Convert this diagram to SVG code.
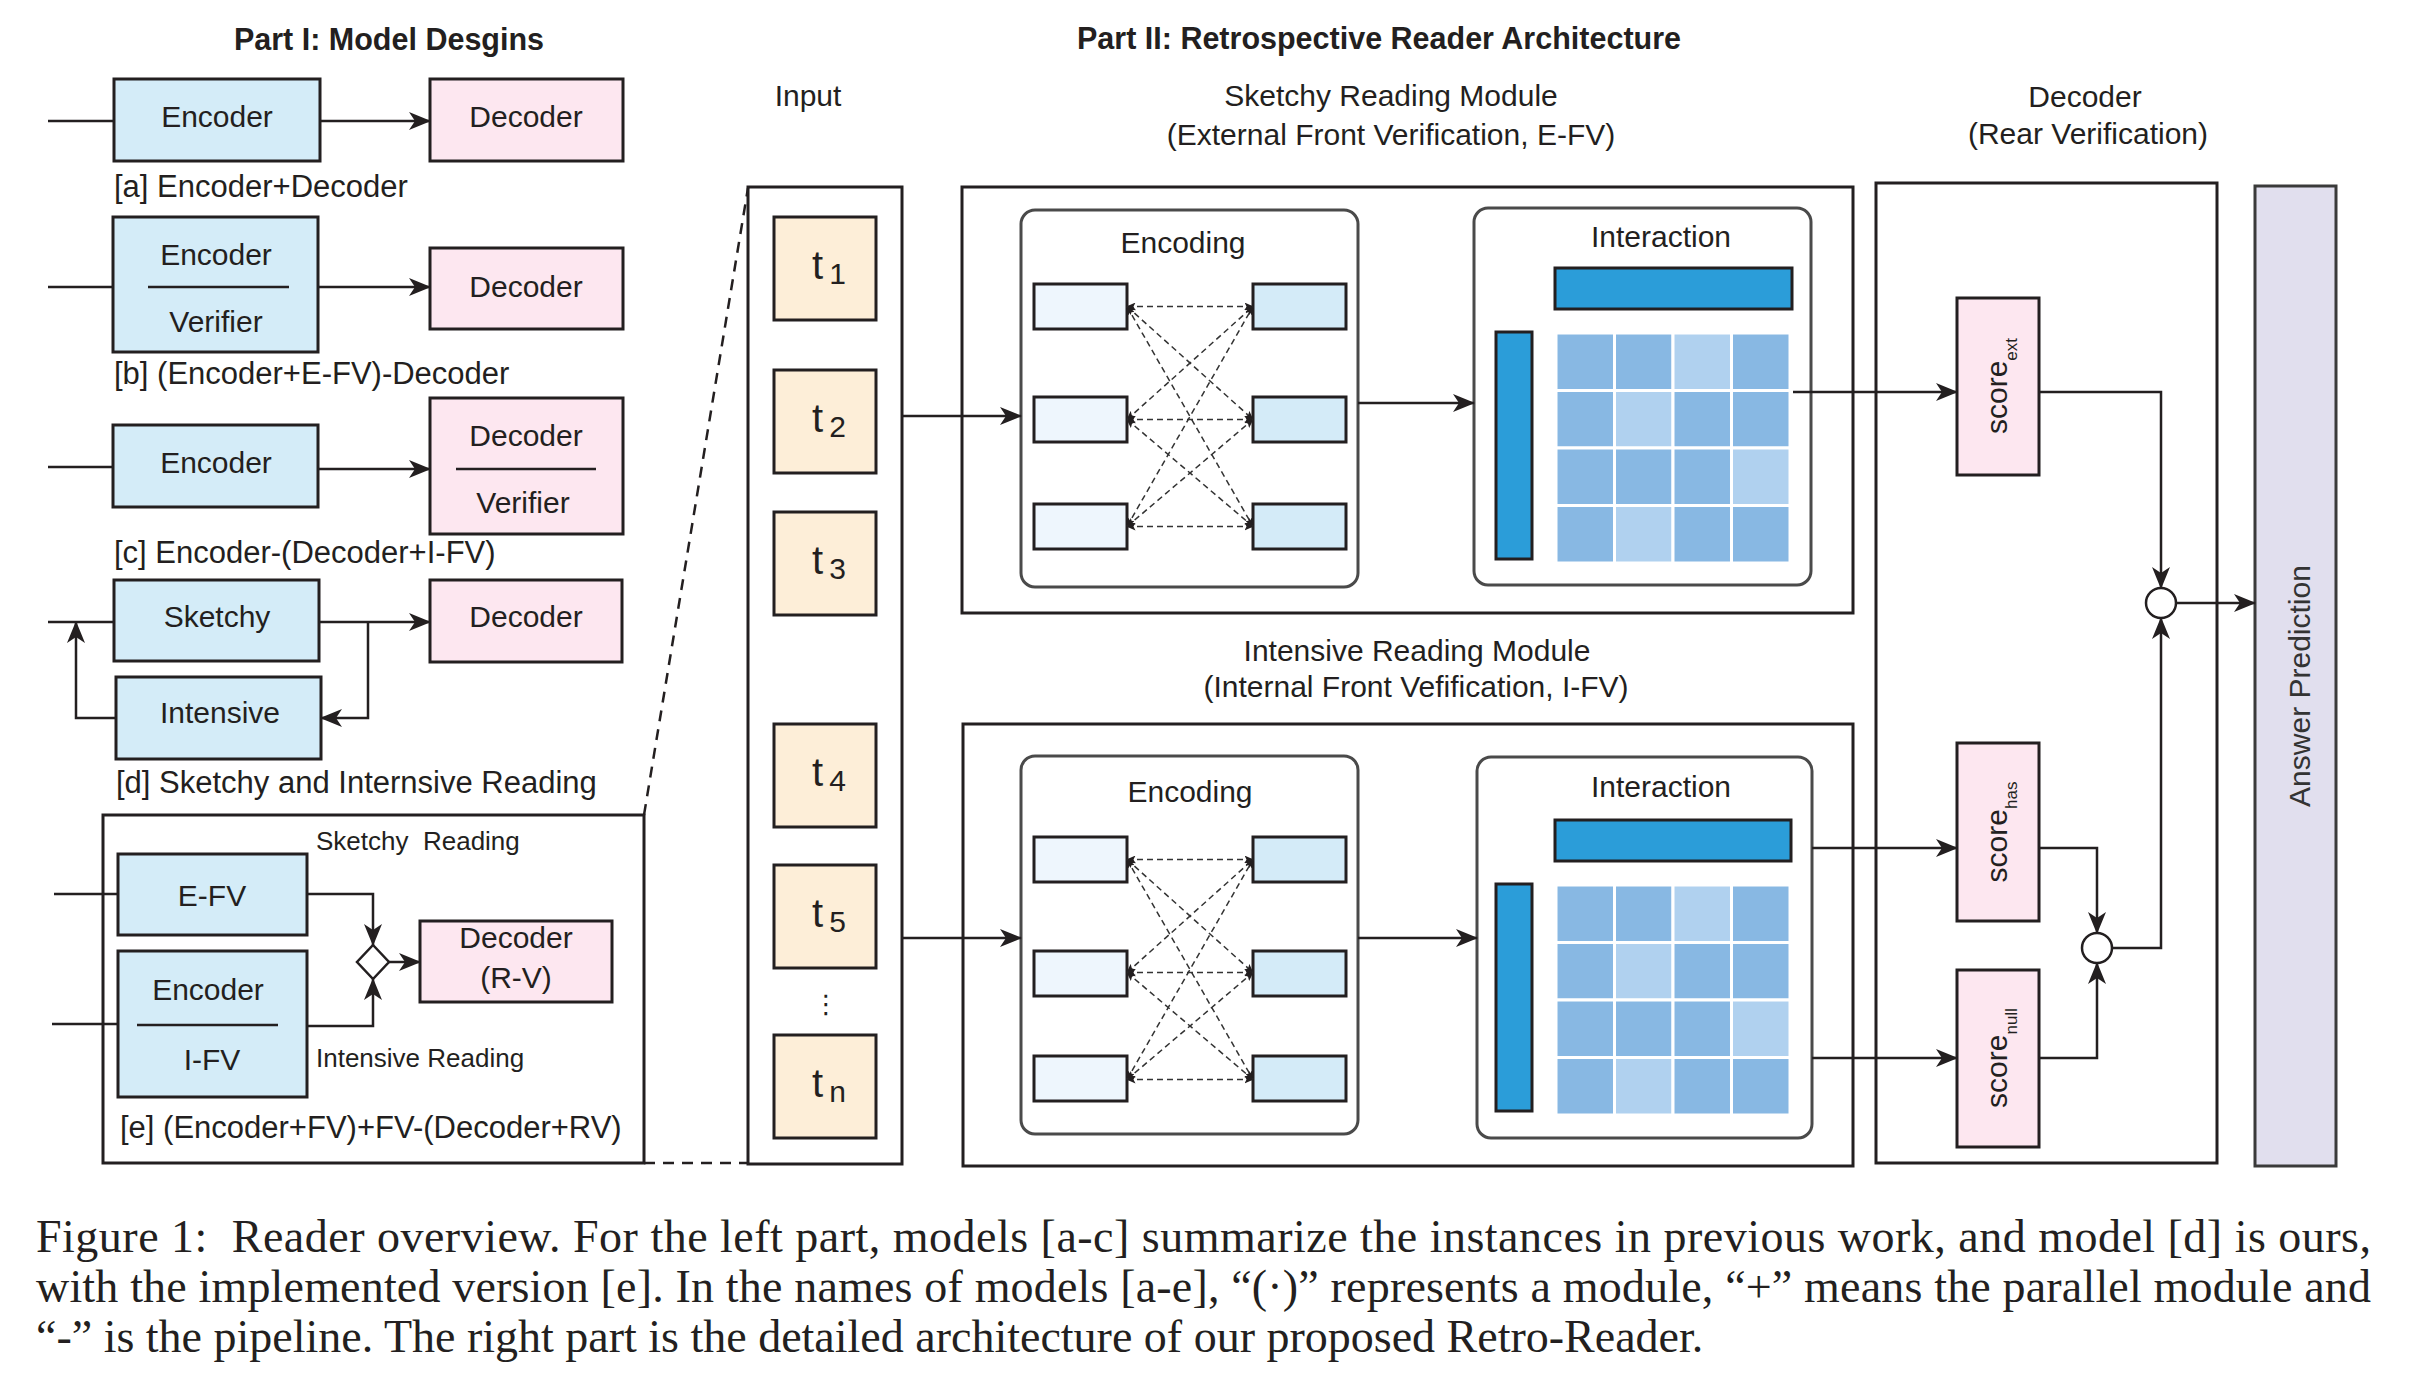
<svg xmlns="http://www.w3.org/2000/svg" xmlns:xlink="http://www.w3.org/1999/xlink" width="2430" height="1392" viewBox="0 0 2430 1392">
<defs>
<style>
.t{font-family:"Liberation Sans",Arial,Helvetica,sans-serif;font-size:30px;fill:#231f20}
.tl{font-family:"Liberation Sans",Arial,Helvetica,sans-serif;font-size:31px;fill:#231f20}
.tb{font-family:"Liberation Sans",Arial,Helvetica,sans-serif;font-size:30.5px;font-weight:bold;fill:#231f20}
.ts{font-family:"Liberation Sans",Arial,Helvetica,sans-serif;font-size:26px;fill:#231f20}
.tk{font-family:"Liberation Sans",Arial,Helvetica,sans-serif;font-size:40px;fill:#231f20}
.sub{font-size:30px}
.ssub{font-size:17px}
.cap{font-family:"Liberation Serif","Times New Roman",serif;font-size:46px;fill:#231f20}
.bx{stroke:#231f20;stroke-width:3}
.blue{fill:#d4ecf8}
.pink{fill:#fde7f0}
.tok{fill:#fdeed8}
.frame{fill:none;stroke:#231f20;stroke-width:3}
.rnd{fill:#fff;stroke:#4a4a4a;stroke-width:3}
.lb{fill:#eef6fd;stroke:#231f20;stroke-width:3}
.rb{fill:#d4ebf8;stroke:#231f20;stroke-width:3}
.bar{fill:#2b9dd9;stroke:#231f20;stroke-width:3}
.cd{fill:#88b8e3;stroke:#fff;stroke-width:3}
.cl{fill:#b0d1ef;stroke:#fff;stroke-width:3}
.ln{fill:none;stroke:#231f20;stroke-width:2.5}
.ar{fill:none;stroke:#231f20;stroke-width:2.5;marker-end:url(#ah)}
.dl{fill:none;stroke:#333;stroke-width:1.5;stroke-dasharray:6 4;marker-start:url(#sa);marker-end:url(#sa)}
.zoom{fill:none;stroke:#231f20;stroke-width:2.5;stroke-dasharray:11 8}
</style>
<marker id="ah" viewBox="0 0 22 18" refX="21" refY="9" markerWidth="22" markerHeight="18" markerUnits="userSpaceOnUse" orient="auto">
<path d="M0,0 L22,9 L0,18 L6,9 Z" fill="#231f20"/>
</marker>
<marker id="sa" viewBox="0 0 9 8" refX="8.5" refY="4" markerWidth="9" markerHeight="8" markerUnits="userSpaceOnUse" orient="auto-start-reverse">
<path d="M0,0 L9,4 L0,8 L2,4 Z" fill="#231f20"/>
</marker>
<g id="gridcells">
<rect class="cd" x="0" y="0" width="58.5" height="57.5"/>
<rect class="cd" x="58.5" y="0" width="58.5" height="57.5"/>
<rect class="cl" x="117" y="0" width="58.5" height="57.5"/>
<rect class="cd" x="175.5" y="0" width="58.5" height="57.5"/>
<rect class="cd" x="0" y="57.5" width="58.5" height="57.5"/>
<rect class="cl" x="58.5" y="57.5" width="58.5" height="57.5"/>
<rect class="cd" x="117" y="57.5" width="58.5" height="57.5"/>
<rect class="cd" x="175.5" y="57.5" width="58.5" height="57.5"/>
<rect class="cd" x="0" y="115" width="58.5" height="57.5"/>
<rect class="cd" x="58.5" y="115" width="58.5" height="57.5"/>
<rect class="cd" x="117" y="115" width="58.5" height="57.5"/>
<rect class="cl" x="175.5" y="115" width="58.5" height="57.5"/>
<rect class="cd" x="0" y="172.5" width="58.5" height="57.5"/>
<rect class="cl" x="58.5" y="172.5" width="58.5" height="57.5"/>
<rect class="cd" x="117" y="172.5" width="58.5" height="57.5"/>
<rect class="cd" x="175.5" y="172.5" width="58.5" height="57.5"/>
</g>
<g id="mesh">
<line class="dl" x1="0" y1="0" x2="126" y2="0"/>
<line class="dl" x1="0" y1="0" x2="126" y2="113"/>
<line class="dl" x1="0" y1="0" x2="126" y2="220"/>
<line class="dl" x1="0" y1="113" x2="126" y2="0"/>
<line class="dl" x1="0" y1="113" x2="126" y2="113"/>
<line class="dl" x1="0" y1="113" x2="126" y2="220"/>
<line class="dl" x1="0" y1="220" x2="126" y2="0"/>
<line class="dl" x1="0" y1="220" x2="126" y2="113"/>
<line class="dl" x1="0" y1="220" x2="126" y2="220"/>
</g>
</defs>
<rect width="2430" height="1392" fill="#fff"/>

<!-- Titles -->
<text class="tb" x="389" y="50" text-anchor="middle">Part I: Model Desgins</text>
<text class="tb" x="1379" y="49" text-anchor="middle">Part II: Retrospective Reader Architecture</text>

<!-- Part I -->
<g id="model-a">
<rect id="a-enc" class="bx blue" x="114" y="79" width="206" height="82"/>
<text class="t" x="217" y="127" text-anchor="middle">Encoder</text>
<rect id="a-dec" class="bx pink" x="430" y="79" width="193" height="82"/>
<text class="t" x="526" y="127" text-anchor="middle">Decoder</text>
<text class="tl" x="114" y="197">[a] Encoder+Decoder</text>
</g>
<g id="model-b">
<rect class="bx blue" x="113" y="217" width="205" height="135"/>
<line class="ln" x1="148" y1="287" x2="289" y2="287"/>
<text class="t" x="216" y="265" text-anchor="middle">Encoder</text>
<text class="t" x="216" y="332" text-anchor="middle">Verifier</text>
<rect class="bx pink" x="430" y="248" width="193" height="81"/>
<text class="t" x="526" y="297" text-anchor="middle">Decoder</text>
<text class="tl" x="114" y="384">[b] (Encoder+E-FV)-Decoder</text>
</g>
<g id="model-c">
<rect class="bx blue" x="113" y="425" width="205" height="82"/>
<text class="t" x="216" y="473" text-anchor="middle">Encoder</text>
<rect class="bx pink" x="430" y="398" width="193" height="136"/>
<line class="ln" x1="456" y1="469" x2="596" y2="469"/>
<text class="t" x="526" y="446" text-anchor="middle">Decoder</text>
<text class="t" x="523" y="513" text-anchor="middle">Verifier</text>
<text class="tl" x="114" y="563">[c] Encoder-(Decoder+I-FV)</text>
</g>
<g id="model-d">
<rect class="bx blue" x="114" y="580" width="205" height="81"/>
<text class="t" x="217" y="627" text-anchor="middle">Sketchy</text>
<rect class="bx pink" x="430" y="580" width="192" height="82"/>
<text class="t" x="526" y="627" text-anchor="middle">Decoder</text>
<rect class="bx blue" x="116" y="677" width="205" height="82"/>
<text class="t" x="220" y="723" text-anchor="middle">Intensive</text>
<text class="tl" x="116" y="793">[d] Sketchy and Internsive Reading</text>
</g>
<g id="model-e">
<rect class="frame" x="103" y="815" width="541" height="348"/>
<text class="ts" x="316" y="850" xml:space="preserve">Sketchy  Reading</text>
<rect class="bx blue" x="118" y="854" width="189" height="81"/>
<text class="t" x="212" y="906" text-anchor="middle">E-FV</text>
<rect class="bx blue" x="118" y="951" width="189" height="146"/>
<line class="ln" x1="137" y1="1025" x2="278" y2="1025"/>
<text class="t" x="208" y="1000" text-anchor="middle">Encoder</text>
<text class="t" x="212" y="1070" text-anchor="middle">I-FV</text>
<polygon points="373,945 389,962 373,979 357,962" fill="#fff" stroke="#231f20" stroke-width="2.5"/>
<rect class="bx pink" x="420" y="921" width="192" height="81"/>
<text class="t" x="516" y="948" text-anchor="middle">Decoder</text>
<text class="t" x="516" y="988" text-anchor="middle">(R-V)</text>
<text class="ts" x="316" y="1067">Intensive Reading</text>
<text class="tl" x="120" y="1138">[e] (Encoder+FV)+FV-(Decoder+RV)</text>
</g>

<!-- Part II headings -->
<text class="t" x="808" y="106" text-anchor="middle">Input</text>
<text class="t" x="1391" y="106" text-anchor="middle">Sketchy Reading Module</text>
<text class="t" x="1391" y="145" text-anchor="middle">(External Front Verification, E-FV)</text>
<text class="t" x="2085" y="107" text-anchor="middle">Decoder</text>
<text class="t" x="2088" y="144" text-anchor="middle">(Rear Verification)</text>
<text class="t" x="1417" y="661" text-anchor="middle">Intensive Reading Module</text>
<text class="t" x="1416" y="697" text-anchor="middle">(Internal Front Vefification, I-FV)</text>

<!-- Input -->
<g id="input">
<rect class="frame" x="748" y="187" width="154" height="977"/>
<rect class="bx tok" x="774" y="217" width="102" height="103"/>
<text class="tk" x="829" y="279" text-anchor="middle">t<tspan class="sub" dx="6" dy="5">1</tspan></text>
<rect class="bx tok" x="774" y="370" width="102" height="103"/>
<text class="tk" x="829" y="432" text-anchor="middle">t<tspan class="sub" dx="6" dy="5">2</tspan></text>
<rect class="bx tok" x="774" y="512" width="102" height="103"/>
<text class="tk" x="829" y="574" text-anchor="middle">t<tspan class="sub" dx="6" dy="5">3</tspan></text>
<rect class="bx tok" x="774" y="724" width="102" height="103"/>
<text class="tk" x="829" y="786" text-anchor="middle">t<tspan class="sub" dx="6" dy="5">4</tspan></text>
<rect class="bx tok" x="774" y="865" width="102" height="103"/>
<text class="tk" x="829" y="927" text-anchor="middle">t<tspan class="sub" dx="6" dy="5">5</tspan></text>
<text x="826" y="1013" text-anchor="middle" font-family="DejaVu Sans, sans-serif" font-size="26" fill="#231f20">⋮</text>
<rect class="bx tok" x="774" y="1035" width="102" height="103"/>
<text class="tk" x="829" y="1097" text-anchor="middle">t<tspan class="sub" dx="6" dy="5">n</tspan></text>
</g>

<!-- Sketchy module -->
<g id="sketchy-module">
<rect class="frame" x="962" y="187" width="891" height="426"/>
<rect class="rnd" x="1021" y="210" width="337" height="377" rx="14"/>
<text class="t" x="1183" y="253" text-anchor="middle">Encoding</text>
<rect class="lb" x="1034" y="284" width="93" height="45"/>
<rect class="lb" x="1034" y="397" width="93" height="45"/>
<rect class="lb" x="1034" y="504" width="93" height="45"/>
<rect class="rb" x="1253" y="284" width="93" height="45"/>
<rect class="rb" x="1253" y="397" width="93" height="45"/>
<rect class="rb" x="1253" y="504" width="93" height="45"/>
<use xlink:href="#mesh" x="1127" y="306.5"/>
<rect class="rnd" x="1474" y="208" width="337" height="377" rx="14"/>
<text class="t" x="1661" y="247" text-anchor="middle">Interaction</text>
<rect class="bar" x="1555" y="268" width="237" height="41"/>
<rect class="bar" x="1496" y="332" width="36" height="227"/>
<use xlink:href="#gridcells" x="1556" y="333"/>
</g>

<!-- Intensive module -->
<g id="intensive-module">
<rect class="frame" x="963" y="724" width="890" height="442"/>
<rect class="rnd" x="1021" y="756" width="337" height="378" rx="14"/>
<text class="t" x="1190" y="802" text-anchor="middle">Encoding</text>
<rect class="lb" x="1034" y="837" width="93" height="45"/>
<rect class="lb" x="1034" y="951" width="93" height="45"/>
<rect class="lb" x="1034" y="1056" width="93" height="45"/>
<rect class="rb" x="1253" y="837" width="93" height="45"/>
<rect class="rb" x="1253" y="951" width="93" height="45"/>
<rect class="rb" x="1253" y="1056" width="93" height="45"/>
<use xlink:href="#mesh" x="1127" y="859.5"/>
<rect class="rnd" x="1477" y="757" width="335" height="381" rx="14"/>
<text class="t" x="1661" y="797" text-anchor="middle">Interaction</text>
<rect class="bar" x="1555" y="820" width="236" height="41"/>
<rect class="bar" x="1496" y="884" width="36" height="227"/>
<use xlink:href="#gridcells" x="1556" y="885"/>
</g>

<!-- Decoder -->
<g id="decoder">
<rect class="frame" x="1876" y="183" width="341" height="980"/>
<rect class="bx pink" x="1957" y="298" width="82" height="177"/>
<text class="t" transform="translate(1998,386) rotate(-90)" x="0" y="9" text-anchor="middle">score<tspan class="ssub" dy="10">ext</tspan></text>
<rect class="bx pink" x="1957" y="743" width="82" height="178"/>
<text class="t" transform="translate(1998,832) rotate(-90)" x="0" y="9" text-anchor="middle">score<tspan class="ssub" dy="10">has</tspan></text>
<rect class="bx pink" x="1957" y="970" width="82" height="177"/>
<text class="t" transform="translate(1998,1058) rotate(-90)" x="0" y="9" text-anchor="middle">score<tspan class="ssub" dy="10">null</tspan></text>
<circle cx="2161" cy="603" r="15" fill="#fff" stroke="#231f20" stroke-width="2.5"/>
<circle cx="2097" cy="948" r="15" fill="#fff" stroke="#231f20" stroke-width="2.5"/>
</g>
<g id="answer">
<rect x="2255" y="186" width="81" height="980" fill="#e1dfee" stroke="#3a3a3a" stroke-width="3"/>
<text class="t" transform="translate(2310,686) rotate(-90)" x="0" y="0" text-anchor="middle" style="fill:#333">Answer Prediction</text>
</g>

<!-- Connectors -->
<g id="connectors">
<line class="ln" x1="48" y1="121" x2="114" y2="121"/>
<line class="ar" x1="320" y1="121" x2="430" y2="121"/>
<line class="ln" x1="48" y1="287" x2="113" y2="287"/>
<line class="ar" x1="318" y1="287" x2="430" y2="287"/>
<line class="ln" x1="48" y1="467" x2="113" y2="467"/>
<line class="ar" x1="318" y1="469" x2="430" y2="469"/>
<line class="ln" x1="48" y1="622" x2="114" y2="622"/>
<line class="ar" x1="319" y1="622" x2="430" y2="622"/>
<polyline class="ar" points="368,622 368,718 321,718"/>
<polyline class="ar" points="116,718 76,718 76,622"/>
<line class="ln" x1="54" y1="894" x2="118" y2="894"/>
<line class="ln" x1="52" y1="1024" x2="118" y2="1024"/>
<polyline class="ar" points="307,894 373,894 373,945"/>
<polyline class="ar" points="307,1026 373,1026 373,979"/>
<line class="ar" x1="389" y1="962" x2="420" y2="962"/>
<line class="zoom" x1="644" y1="815" x2="748" y2="188"/>
<line class="zoom" x1="644" y1="1163" x2="748" y2="1163"/>
<line class="ar" x1="902" y1="416" x2="1021" y2="416"/>
<line class="ar" x1="1358" y1="403" x2="1474" y2="403"/>
<line class="ar" x1="902" y1="938" x2="1021" y2="938"/>
<line class="ar" x1="1358" y1="938" x2="1477" y2="938"/>
<line class="ar" x1="1793" y1="392" x2="1957" y2="392"/>
<line class="ar" x1="1812" y1="848" x2="1957" y2="848"/>
<line class="ar" x1="1812" y1="1058" x2="1957" y2="1058"/>
<polyline class="ar" points="2039,392 2161,392 2161,588"/>
<line class="ar" x1="2176" y1="603" x2="2255" y2="603"/>
<polyline class="ar" points="2039,848 2097,848 2097,933"/>
<polyline class="ar" points="2039,1058 2097,1058 2097,963"/>
<polyline class="ar" points="2112,948 2161,948 2161,618"/>
</g>

<!-- Caption -->
<g id="caption">
<text class="cap" x="36" y="1252" textLength="2335" lengthAdjust="spacing" xml:space="preserve">Figure 1:  Reader overview. For the left part, models [a-c] summarize the instances in previous work, and model [d] is ours,</text>
<text class="cap" x="36" y="1302" textLength="2335" lengthAdjust="spacing">with the implemented version [e]. In the names of models [a-e], “(·)” represents a module, “+” means the parallel module and</text>
<text class="cap" x="36" y="1352">“-” is the pipeline. The right part is the detailed architecture of our proposed Retro-Reader.</text>
</g>
</svg>
